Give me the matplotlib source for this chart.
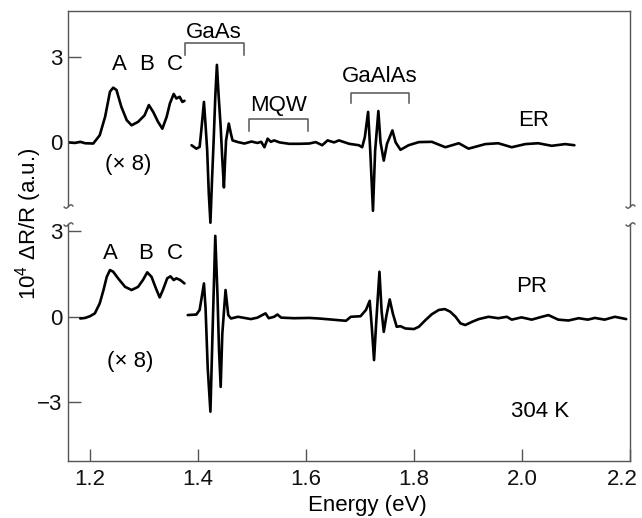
import numpy as np
import matplotlib
matplotlib.use("Agg")
import matplotlib.pyplot as plt
from matplotlib.path import Path
from matplotlib.transforms import ScaledTranslation

plt.rcParams['font.family'] = ['Liberation Sans', 'DejaVu Sans']
plt.rcParams['mathtext.fontset'] = 'custom'
plt.rcParams['mathtext.rm'] = 'Liberation Sans'
plt.rcParams['mathtext.it'] = 'Liberation Sans:italic'

# ---- spectra (energy in eV, signal in units of 1e-4 dR/R) ----
# electroreflectance, low-energy part (x8)
er_low_energy = [1.160, 1.172, 1.182, 1.191, 1.206, 1.218, 1.228, 1.237, 1.243, 1.249,
                 1.258, 1.268, 1.277, 1.289, 1.301, 1.309, 1.317, 1.326, 1.334, 1.342,
                 1.348, 1.355, 1.360, 1.366, 1.371, 1.375]
er_low_signal = [0.00, -0.02, 0.02, -0.03, -0.04, 0.25, 0.90, 1.78, 1.92, 1.84,
                 1.25, 0.78, 0.60, 0.72, 0.95, 1.31, 1.07, 0.72, 0.48, 0.90,
                 1.37, 1.70, 1.54, 1.60, 1.42, 1.46]

# electroreflectance, GaAs / MQW / GaAlAs part
er_high_energy = [1.388, 1.397, 1.403, 1.406, 1.411, 1.414, 1.417, 1.420, 1.423, 1.426,
                  1.429, 1.432, 1.435, 1.438, 1.442, 1.445, 1.448, 1.450, 1.452, 1.457,
                  1.461, 1.464, 1.474, 1.486, 1.499, 1.510, 1.517, 1.523, 1.529, 1.535,
                  1.541, 1.551, 1.569, 1.587, 1.606, 1.618, 1.630, 1.640, 1.652, 1.661,
                  1.680, 1.698, 1.704, 1.709, 1.715, 1.719, 1.724, 1.728, 1.734, 1.738,
                  1.744, 1.750, 1.760, 1.766, 1.775, 1.790, 1.809, 1.833, 1.858, 1.883,
                  1.901, 1.932, 1.956, 1.981, 2.006, 2.030, 2.055, 2.080, 2.097]
er_high_signal = [-0.10, -0.22, -0.16, 0.40, 1.42, 0.60, -0.28, -1.80, -2.82, -1.30,
                  0.07, 1.60, 2.72, 1.70, 0.54, -0.60, -1.58, -0.70, 0.07, 0.66,
                  0.30, 0.07, 0.01, -0.04, 0.03, -0.02, 0.02, -0.17, 0.13, 0.02,
                  0.07, 0.00, -0.05, -0.05, -0.04, 0.01, -0.10, 0.07, 0.00, 0.07,
                  -0.05, -0.10, -0.17, 0.19, 1.07, -0.30, -2.40, -0.30, 1.10, 0.00,
                  -0.64, -0.05, 0.42, 0.00, -0.26, -0.10, 0.01, 0.02, -0.17, -0.03,
                  -0.22, -0.06, -0.03, -0.17, -0.06, -0.03, -0.12, -0.06, -0.10]

# photoreflectance, low-energy part (x8)
pr_low_energy = [1.182, 1.191, 1.200, 1.209, 1.218, 1.225, 1.231, 1.237, 1.243, 1.252,
                 1.265, 1.277, 1.289, 1.298, 1.306, 1.314, 1.322, 1.329, 1.335, 1.343,
                 1.349, 1.355, 1.360, 1.367, 1.375]
pr_low_signal = [-0.06, -0.04, 0.02, 0.12, 0.47, 0.94, 1.40, 1.64, 1.58, 1.35,
                 1.05, 0.94, 1.05, 1.29, 1.56, 1.40, 1.00, 0.68, 0.94, 1.35,
                 1.42, 1.29, 1.35, 1.29, 1.17]

# photoreflectance, GaAs / MQW / GaAlAs part
pr_high_energy = [1.381, 1.397, 1.403, 1.407, 1.411, 1.414, 1.418, 1.423, 1.427, 1.432,
                  1.436, 1.439, 1.442, 1.445, 1.451, 1.456, 1.461, 1.474, 1.486, 1.498,
                  1.510, 1.525, 1.531, 1.541, 1.547, 1.554, 1.578, 1.606, 1.624, 1.643,
                  1.661, 1.674, 1.683, 1.701, 1.711, 1.718, 1.722, 1.726, 1.730, 1.736,
                  1.740, 1.744, 1.749, 1.755, 1.761, 1.768, 1.775, 1.784, 1.800, 1.809,
                  1.821, 1.833, 1.846, 1.857, 1.867, 1.877, 1.886, 1.895, 1.907, 1.920,
                  1.938, 1.956, 1.972, 1.981, 1.999, 2.018, 2.033, 2.049, 2.067, 2.086,
                  2.105, 2.122, 2.135, 2.153, 2.172, 2.193]
pr_high_signal = [0.06, 0.08, 0.24, 0.70, 1.17, 0.30, -1.80, -3.33, -0.50, 2.84,
                  0.80, -1.20, -2.46, -0.60, 0.94, 0.06, -0.06, 0.00, -0.04, -0.08,
                  -0.03, 0.12, -0.05, 0.00, 0.08, -0.03, -0.05, -0.04, -0.06, -0.09,
                  -0.12, -0.14, 0.00, 0.02, 0.24, 0.56, -0.40, -1.52, -0.20, 1.58,
                  0.20, -0.53, 0.05, 0.61, 0.10, -0.35, -0.33, -0.41, -0.43, -0.35,
                  -0.12, 0.09, 0.24, 0.27, 0.18, 0.00, -0.23, -0.29, -0.18, -0.08,
                  0.00, -0.05, 0.00, -0.10, -0.02, -0.10, -0.02, 0.06, -0.10, -0.13,
                  -0.05, -0.10, -0.04, -0.10, 0.00, -0.08]

# vertical shift of the ER trace above the PR trace
ER_OFFSET = 6.12

x_ticks = [1.2, 1.4, 1.6, 1.8, 2.0, 2.2]
x_tick_labels = ['1.2', '1.4', '1.6', '1.8', '2.0', '2.2']
y_ticks = [-3, 0, 3, ER_OFFSET, ER_OFFSET + 3]
y_tick_labels = ['\u22123', '0', '3', '0', '3']

# energy ranges of the spectral features
brackets = {
    'GaAs': (1.375, 1.485),
    'MQW': (1.494, 1.603),
    'GaAlAs': (1.683, 1.790),
}

AX_COLOR = '#555555'
FS = 16

fig = plt.figure(figsize=(6.42, 5.18), dpi=100)
ax = fig.add_axes([67.7 / 642, 1 - 460.7 / 518, (630 - 67.7) / 642, (460.7 - 11.3) / 518])
ax.set_xlim(1.1587, 2.2)
ax.set_ylim(-5.05, 10.72)

line_kw = dict(color='black', lw=1.9, solid_joinstyle='round', solid_capstyle='round')
ax.plot(er_low_energy, np.array(er_low_signal) + ER_OFFSET, **line_kw)
ax.plot(er_high_energy, np.array(er_high_signal) + ER_OFFSET, **line_kw)
ax.plot(pr_low_energy, pr_low_signal, **line_kw)
ax.plot(pr_high_energy, pr_high_signal, **line_kw)

# axes frame: left/right spines drawn by hand with a break between the two traces
for side in ('left', 'right'):
    ax.spines[side].set_visible(False)
for side in ('top', 'bottom'):
    ax.spines[side].set_color(AX_COLOR)
    ax.spines[side].set_linewidth(1.0)

ytr = ax.get_yaxis_transform()
y0, y1 = ax.get_ylim()
brk_lo, brk_hi = 3.25, 3.90
t = np.linspace(-1, 1, 25)
tilde = Path(np.column_stack([t, 0.35 * np.sin(np.pi * t)]))
for xs in (0, 1):
    ax.plot([xs, xs], [y0, brk_lo], transform=ytr, color=AX_COLOR, lw=1.0, clip_on=False)
    ax.plot([xs, xs], [brk_hi, y1], transform=ytr, color=AX_COLOR, lw=1.0, clip_on=False)
    ax.plot([xs, xs], [brk_lo, brk_hi], transform=ytr, ls='none', marker=tilde, ms=7,
            mfc='none', mec=AX_COLOR, mew=1.0, clip_on=False)

ax.set_xticks(x_ticks)
ax.set_xticklabels(x_tick_labels)
ax.set_yticks(y_ticks)
ax.set_yticklabels(y_tick_labels)
ax.tick_params(axis='both', direction='in', length=9, width=1.0, color=AX_COLOR,
               labelsize=FS, labelcolor='#111111')
ax.tick_params(axis='x', pad=6, top=False)
ax.tick_params(axis='y', pad=4, right=False)

# keep the last energy label inside the figure
last = ax.get_xticklabels()[-1]
last.set_transform(last.get_transform() + ScaledTranslation(-0.08, 0, fig.dpi_scale_trans))

# feature brackets
bracket_geom = {
    'GaAs': (9.18, 9.61, 9.99),
    'MQW': (6.53, 6.94, 7.43),
    'GaAlAs': (7.49, 7.84, 8.42),
}
for name, (xa, xb) in brackets.items():
    yb, yt, ylab = bracket_geom[name]
    ax.plot([xa, xa, xb, xb], [yb, yt, yt, yb], color=AX_COLOR, lw=1.1)
    ax.text((xa + xb) / 2, ylab, name, ha='center', va='center', fontsize=FS)

# exciton labels and scale factors
for x, s in zip([1.254, 1.305, 1.357], ['A', 'B', 'C']):
    ax.text(x, 8.86, s, ha='center', va='center', fontsize=FS)
for x, s in zip([1.237, 1.303, 1.357], ['A', 'B', 'C']):
    ax.text(x, 2.22, s, ha='center', va='center', fontsize=FS)
ax.text(1.271, 5.36, '(\u00d7 8)', ha='center', va='center', fontsize=FS)
ax.text(1.274, -1.58, '(\u00d7 8)', ha='center', va='center', fontsize=FS)

ax.text(2.021, 6.90, 'ER', ha='center', va='center', fontsize=FS)
ax.text(2.018, 1.08, 'PR', ha='center', va='center', fontsize=FS)
ax.text(2.033, -3.31, '304 K', ha='center', va='center', fontsize=FS)

fig.text(367 / 642, 1 - 506 / 518, 'Energy (eV)', ha='center', va='center', fontsize=FS)
fig.text(29 / 642, 1 - 224 / 518, r'10$^{4}$ $\Delta$R/R (a.u.)', ha='center', va='center',
         rotation=90, fontsize=FS)

fig.savefig('out.png', dpi=100)
